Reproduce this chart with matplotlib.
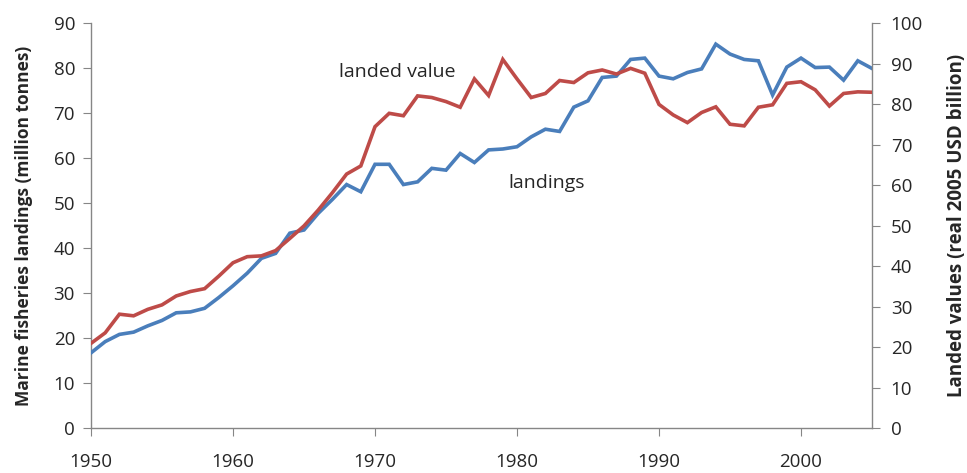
import matplotlib
matplotlib.use("Agg")
import matplotlib.pyplot as plt

years = list(range(1950, 2006))
landings = [16.7, 19.2, 20.8, 21.3, 22.7, 23.9, 25.6, 25.8, 26.6, 29.0,
            31.6, 34.4, 37.7, 38.8, 43.3, 44.0, 47.7, 50.8, 54.1, 52.5,
            58.6, 58.6, 54.1, 54.7, 57.7, 57.3, 61.0, 59.0, 61.8, 62.0,
            62.5, 64.7, 66.4, 65.9, 71.3, 72.7, 77.9, 78.2, 81.9, 82.2,
            78.2, 77.6, 79.0, 79.8, 85.3, 83.1, 81.9, 81.6, 74.0, 80.2,
            82.2, 80.1, 80.2, 77.3, 81.6, 79.9]
landed_value = [20.9, 23.5, 28.1, 27.7, 29.3, 30.4, 32.6, 33.7, 34.4, 37.5,
                40.8, 42.3, 42.5, 43.8, 46.8, 49.9, 53.8, 58.1, 62.7, 64.7,
                74.4, 77.7, 77.1, 82.0, 81.6, 80.6, 79.2, 86.2, 82.1, 91.0,
                86.2, 81.6, 82.6, 85.8, 85.3, 87.7, 88.4, 87.4, 88.8, 87.6,
                79.9, 77.3, 75.4, 77.9, 79.3, 75.0, 74.6, 79.2, 79.8, 85.1,
                85.5, 83.5, 79.5, 82.6, 83.0, 82.9]
left_ticks = list(range(0, 91, 10))
right_ticks = list(range(0, 101, 10))
x_ticks = [1950, 1960, 1970, 1980, 1990, 2000]

FONT = ["Open Sans", "DejaVu Sans"]
plt.rcParams["font.family"] = FONT
AX = "#868686"
TXT = "#262626"

fig = plt.figure(figsize=(9.67, 4.73), dpi=100)
ax = fig.add_axes([91/967, 45/473, (872-91)/967, (428-23)/473])
ax2 = ax.twinx()

ax.plot(years, landings, color="#4A7EBB", lw=2.6, solid_joinstyle="miter", zorder=3)
ax2.plot(years, landed_value, color="#BE4B48", lw=2.6, solid_joinstyle="miter", zorder=3)

ax.set_xlim(1950, 2005)
ax.set_ylim(0, 90)
ax2.set_ylim(0, 100)
ax.set_xticks(x_ticks)
ax.set_yticks(left_ticks)
ax2.set_yticks(right_ticks)

for a in (ax, ax2):
    a.spines["top"].set_visible(False)
    for s in ("left", "right", "bottom"):
        a.spines[s].set_color(AX)
        a.spines[s].set_linewidth(1.0)
ax.spines["right"].set_visible(False)
ax2.spines["left"].set_visible(False)
ax2.spines["bottom"].set_visible(False)

ax.tick_params(axis="y", direction="out", length=5.5, color=AX, labelsize=13.5, labelcolor=TXT, pad=6)
ax2.tick_params(axis="y", direction="out", length=5.5, color=AX, labelsize=13.5, labelcolor=TXT, pad=8)
ax.tick_params(axis="x", direction="out", length=6, color=AX, labelsize=13.5, labelcolor=TXT, pad=12)

ax.set_ylabel("Marine fisheries landings (million tonnes)", fontsize=12.5, fontweight="bold", color=TXT, labelpad=15)
ax2.set_ylabel("Landed values (real 2005 USD billion)", fontsize=13.5, fontweight="bold", color=TXT, labelpad=17, rotation=90)

ax.text(1971.6, 79.1, "landed value", fontsize=14, color=TXT, ha="center", va="center")
ax.text(1982.1, 54.4, "landings", fontsize=14, color=TXT, ha="center", va="center")

fig.savefig("out.png", dpi=100)
